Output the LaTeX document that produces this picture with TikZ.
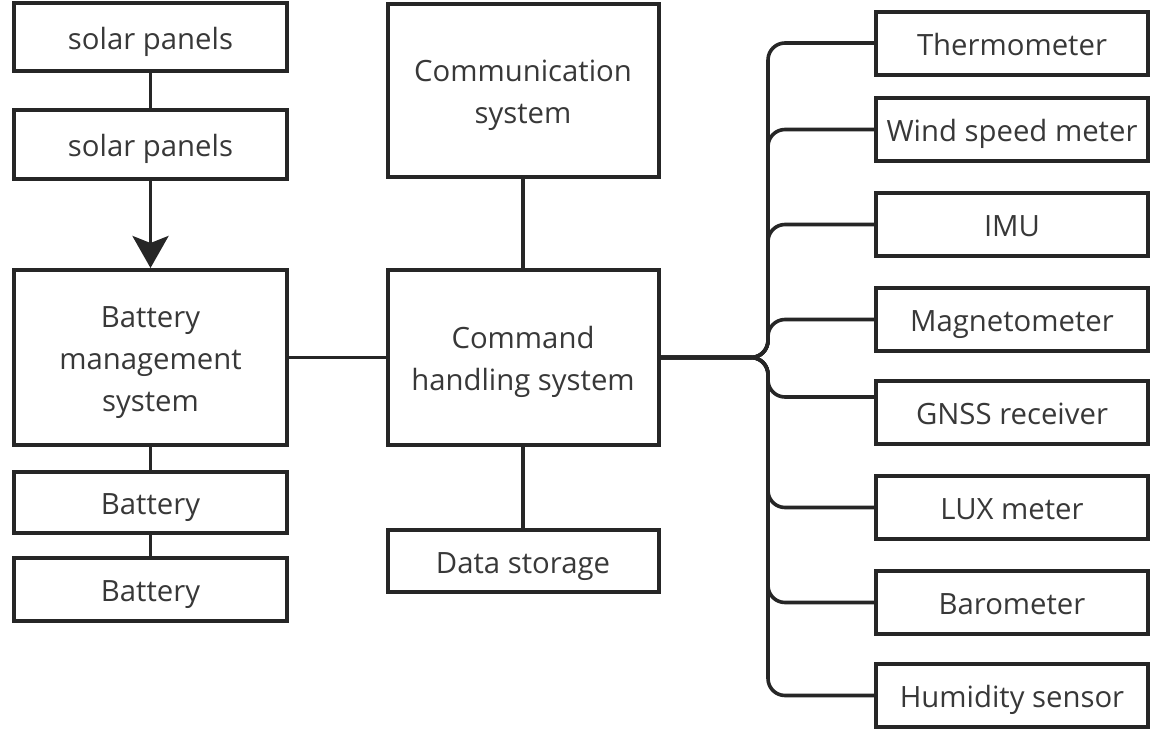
\documentclass[tikz,border=0pt]{standalone}
\usepackage{fontspec}
\setmainfont{Open Sans}
\usetikzlibrary{arrows.meta}
\definecolor{ink}{HTML}{262626}
\definecolor{txt}{HTML}{383838}
% strut on the first line of a multi-line label, lowers the block a little
\newcommand{\firstline}{\rule{0pt}{32pt}}
\tikzset{
  unit/.style={draw=ink, line width=4pt, fill=white, inner sep=0pt,
    text=txt, align=center,
    font=\fontsize{29.3}{42}\selectfont},
  % one line of text: fixed box so every label sits at the same height
  oneline/.style={text height=24.5pt, text depth=0pt},
  leftbox/.style={unit, minimum width=273pt},
  midbox/.style={unit, minimum width=271pt},
  sensor/.style={unit, oneline, minimum width=272pt, minimum height=63pt},
  link/.style={draw=ink, line width=3.6pt},
  feed/.style={link, rounded corners=17pt},
}
\begin{document}
\begin{tikzpicture}[x=1pt, y=-1pt]
\useasboundingbox (0,0) rectangle (1166,728);

% power chain
\node[leftbox, oneline, minimum height=68pt] (sp1) at (150.5,37) {solar panels};
\node[leftbox, oneline, minimum height=69pt] (sp2) at (150.5,144.5) {solar panels};
\node[leftbox, minimum height=175pt] (bms) at (150.5,357.5) {\firstline Battery\\management\\system};
\node[leftbox, oneline, minimum height=61pt] (bat1) at (150.5,502.5) {Battery};
\node[leftbox, oneline, minimum height=63pt] (bat2) at (150.5,589.5) {Battery};

% core
\node[midbox, minimum height=173pt] (comm) at (523,90.5) {\firstline Communication\\system};
\node[midbox, minimum height=175pt] (cmd) at (523,357.5) {\firstline Command\\handling system};
\node[midbox, oneline, minimum height=62pt] (store) at (523,561) {Data storage};

% sensors
\node[sensor] (thermo) at (1012,43) {Thermometer};
\node[sensor] (wind) at (1012,129.5) {Wind speed meter};
\node[sensor] (imu) at (1012,224.5) {IMU};
\node[sensor] (magnet) at (1012,319.5) {Magnetometer};
\node[sensor] (gnss) at (1012,412.5) {GNSS receiver};
\node[sensor] (lux) at (1012,507.5) {LUX meter};
\node[sensor] (baro) at (1012,602.5) {Barometer};
\node[sensor] (humid) at (1012,695.5) {Humidity sensor};

% connectors
\draw[link] (sp1) -- (sp2);
\draw[link, -{Stealth[length=32pt, width=36pt, inset=7pt]}] (sp2.south) -- (bms.north);
\draw[link] (bms) -- (bat1);
\draw[link] (bat1) -- (bat2);
\draw[link] (bms) -- (cmd);
\draw[link] (comm) -- (cmd);
\draw[link] (cmd) -- (store);

% sensor bus
\coordinate (bus) at (768,357.5);
\foreach \s in {thermo, wind, imu, magnet, lux, baro, humid}
  \draw[feed] (cmd.east) -- (bus) |- (\s.west);
\draw[feed] (cmd.east) -- (bus) |- ([yshift=15.5pt]gnss.west);
\end{tikzpicture}
\end{document}
